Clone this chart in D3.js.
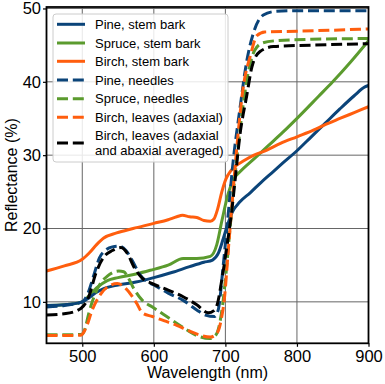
<!DOCTYPE html>
<html><head><meta charset="utf-8">
<script src="https://cdn.jsdelivr.net/npm/d3@7"></script>
<style>body{margin:0;background:#fff}svg{display:block}text{font-family:"Liberation Sans",Arial,sans-serif}</style>
</head><body><svg id="c" width="385" height="384"></svg>
<script>
// ---- data ----
const xTicks = [500, 600, 700, 800, 900];
const yTicks = [10, 20, 30, 40, 50];
const seriesNames = ["Pine, stem bark","Spruce, stem bark","Birch, stem bark","Pine, needles","Spruce, needles","Birch, leaves (adaxial)","Birch, leaves (adaxial\nand abaxial averaged)"];
const seriesColors = ["#0b4479","#5b9b2e","#ff5e0e","#0b4479","#5b9b2e","#ff5e0e","#000000"];
const seriesDashed = [false,false,false,true,true,true,true];
const drawOrder = [1,0,2,3,4,5,6];

const pineBark = [[450,9.5],[475,9.6],[500,10.0],[510,10.6],[520,11.3],[530,11.8],[550,12.3],[575,12.7],[600,13.3],[625,14.0],[650,14.8],[670,15.4],[682,15.7],[690,16.6],[697,18.6],[703,20.5],[710,22.3],[720,23.6],[735,24.9],[750,26.3],[765,27.6],[780,28.9],[800,30.6],[820,32.5],[840,34.4],[860,36.3],[880,38.1],[895,39.3],[900,39.5]];
const spruceBark = [[450,9.5],[475,9.6],[500,10.0],[510,10.9],[520,11.9],[535,12.9],[550,13.3],[575,13.8],[595,14.3],[620,15.0],[641,15.9],[660,15.9],[679,16.2],[688,17.8],[695,21.0],[704,24.8],[712,26.8],[720,27.7],[740,29.5],[760,31.3],[780,33.1],[805,35.5],[830,38.0],[850,40.0],[875,42.7],[900,45.6]];
const birchBark = [[450,14.2],[475,14.9],[500,15.8],[510,16.7],[520,17.8],[530,18.7],[548,19.4],[571,20.0],[600,20.7],[620,21.2],[632,21.6],[640,21.8],[650,21.6],[660,21.5],[670,21.1],[679,21.0],[684,21.3],[689,22.6],[695,25.0],[701,26.8],[707,27.8],[714,28.5],[725,29.2],[740,30.0],[758,30.7],[777,31.6],[800,32.5],[823,33.4],[838,34.1],[860,35.0],[880,35.8],[900,36.6]];
const pineNeedles = [[450,9.3],[475,9.5],[500,10.0],[508,11.2],[516,13.6],[524,16.0],[532,17.0],[542,17.5],[552,17.6],[561,17.0],[570,15.6],[580,13.8],[590,12.8],[600,12.3],[620,11.2],[641,10.2],[660,8.9],[672,8.2],[685,8.0],[690,8.9],[697,15.0],[704,22.0],[711,29.3],[720,36.1],[730,42.9],[739,46.6],[753,49.1],[770,49.6],[800,49.7],[900,49.7]];
const spruceNeedles = [[450,5.5],[475,5.5],[500,5.6],[504,6.4],[509,8.4],[518,11.1],[526,12.6],[535,13.5],[551,14.2],[558,14.1],[563,13.5],[572,11.8],[584,10.2],[598,9.3],[618,8.0],[641,6.5],[660,5.4],[678,5.0],[686,5.4],[691,6.6],[696,9.5],[701,14.0],[706,19.5],[711,24.8],[717,30.5],[725,37.0],[733,41.8],[741,44.3],[752,45.3],[770,45.6],[820,45.8],[900,45.9]];
const birchLeaves = [[450,5.4],[475,5.4],[498,5.45],[505,6.4],[514,8.9],[526,11.1],[540,12.3],[549,12.5],[561,11.8],[570,10.7],[576,9.8],[584,8.5],[598,8.0],[615,7.4],[632,6.8],[648,6.1],[665,5.45],[679,5.2],[688,5.7],[694,7.5],[699,10.8],[704,17.0],[709,23.0],[715,30.0],[725,39.3],[735,43.6],[744,46.3],[755,46.8],[800,46.9],[900,47.2]];
const birchAvg = [[450,8.2],[477,8.4],[498,9.1],[509,10.7],[519,13.9],[530,16.1],[542,17.0],[554,17.4],[563,16.6],[572,14.8],[584,13.2],[598,12.5],[620,11.6],[641,10.7],[660,9.6],[676,8.5],[684,8.8],[689,9.8],[695,13.0],[702,17.5],[709,22.5],[714,27.0],[720,32.5],[730,38.2],[737,42.0],[748,44.1],[767,44.8],[820,45.0],[900,45.2]];
const seriesData = [pineBark, spruceBark, birchBark, pineNeedles, spruceNeedles, birchLeaves, birchAvg];

// ---- chart ----
const svg = d3.select("#c");
const L = 46.5, R = 368.5, T = 7, B = 343.3;
const x = d3.scaleLinear().domain([450, 900]).range([L, R]);
const y = d3.scaleLinear().domain([4.35, 50.2]).range([B, T]);

// grid
const g = svg.append("g");
g.selectAll(".gx").data(xTicks).join("line")
  .attr("x1", d => x(d)).attr("x2", d => x(d)).attr("y1", T).attr("y2", B)
  .attr("stroke", "#666").attr("stroke-width", 1);
g.selectAll(".gy").data(yTicks).join("line")
  .attr("y1", d => y(d)).attr("y2", d => y(d)).attr("x1", L).attr("x2", R)
  .attr("stroke", "#666").attr("stroke-width", 1);

// lines
const line = d3.line().x(d => x(d[0])).y(d => y(d[1])).curve(d3.curveMonotoneX);
svg.append("clipPath").attr("id", "pc").append("rect")
  .attr("x", L).attr("y", T).attr("width", R - L).attr("height", B - T);
const lg = svg.append("g").attr("clip-path", "url(#pc)");
drawOrder.forEach(i => {
  lg.append("path").attr("d", line(seriesData[i])).attr("fill", "none")
    .attr("stroke", seriesColors[i]).attr("stroke-width", 3)
    .attr("stroke-dasharray", seriesDashed[i] ? "11,4.8" : null)
    .attr("stroke-linejoin", "round");
});

// axes
const fontSize = 16.5;
const xa = svg.append("g").attr("transform", `translate(0,${B})`)
  .call(d3.axisBottom(x).tickValues(xTicks).tickSize(3.5).tickPadding(3));
const ya = svg.append("g").attr("transform", `translate(${L},0)`)
  .call(d3.axisLeft(y).tickValues(yTicks).tickSize(3.5).tickPadding(2));
[xa, ya].forEach(a => {
  a.select(".domain").remove();
  a.selectAll("line").attr("stroke", "#000").attr("stroke-width", 1.2);
  a.selectAll("text").attr("fill", "#000").style("font-size", fontSize + "px")
    .style("font-family", '"Liberation Sans", Arial, sans-serif');
});

// frame
svg.append("rect").attr("x", L).attr("y", T).attr("width", R - L).attr("height", B - T)
  .attr("fill", "none").attr("stroke", "#000").attr("stroke-width", 1.8);

// axis labels
svg.append("text").attr("x", (L + R) / 2).attr("y", 378).attr("text-anchor", "middle")
  .style("font-size", "16px").text("Wavelength (nm)");
svg.append("text").attr("transform", `translate(17,${(T + B) / 2}) rotate(-90)`)
  .attr("text-anchor", "middle").style("font-size", "16px").text("Reflectance (%)");

// legend
const leg = svg.append("g");
leg.append("rect").attr("x", 53).attr("y", 14).attr("width", 175).attr("height", 148)
  .attr("rx", 3).attr("fill", "#fff").attr("fill-opacity", 0.85)
  .attr("stroke", "#cccccc").attr("stroke-width", 1);
const rowY = [24.3, 43, 61.3, 80, 98.7, 117.2, 143];
seriesNames.forEach((nm, i) => {
  const yy = rowY[i];
  leg.append("line").attr("x1", 57).attr("x2", 85).attr("y1", yy).attr("y2", yy)
    .attr("stroke", seriesColors[i]).attr("stroke-width", 3)
    .attr("stroke-dasharray", seriesDashed[i] ? "11,4.8" : null);
  const parts = nm.split("\n");
  parts.forEach((p, k) => {
    const off = (k - (parts.length - 1) / 2) * 14.7;
    leg.append("text").attr("x", 95).attr("y", yy + off + 4.6)
      .style("font-size", "13px").text(p);
  });
});
</script></body></html>
